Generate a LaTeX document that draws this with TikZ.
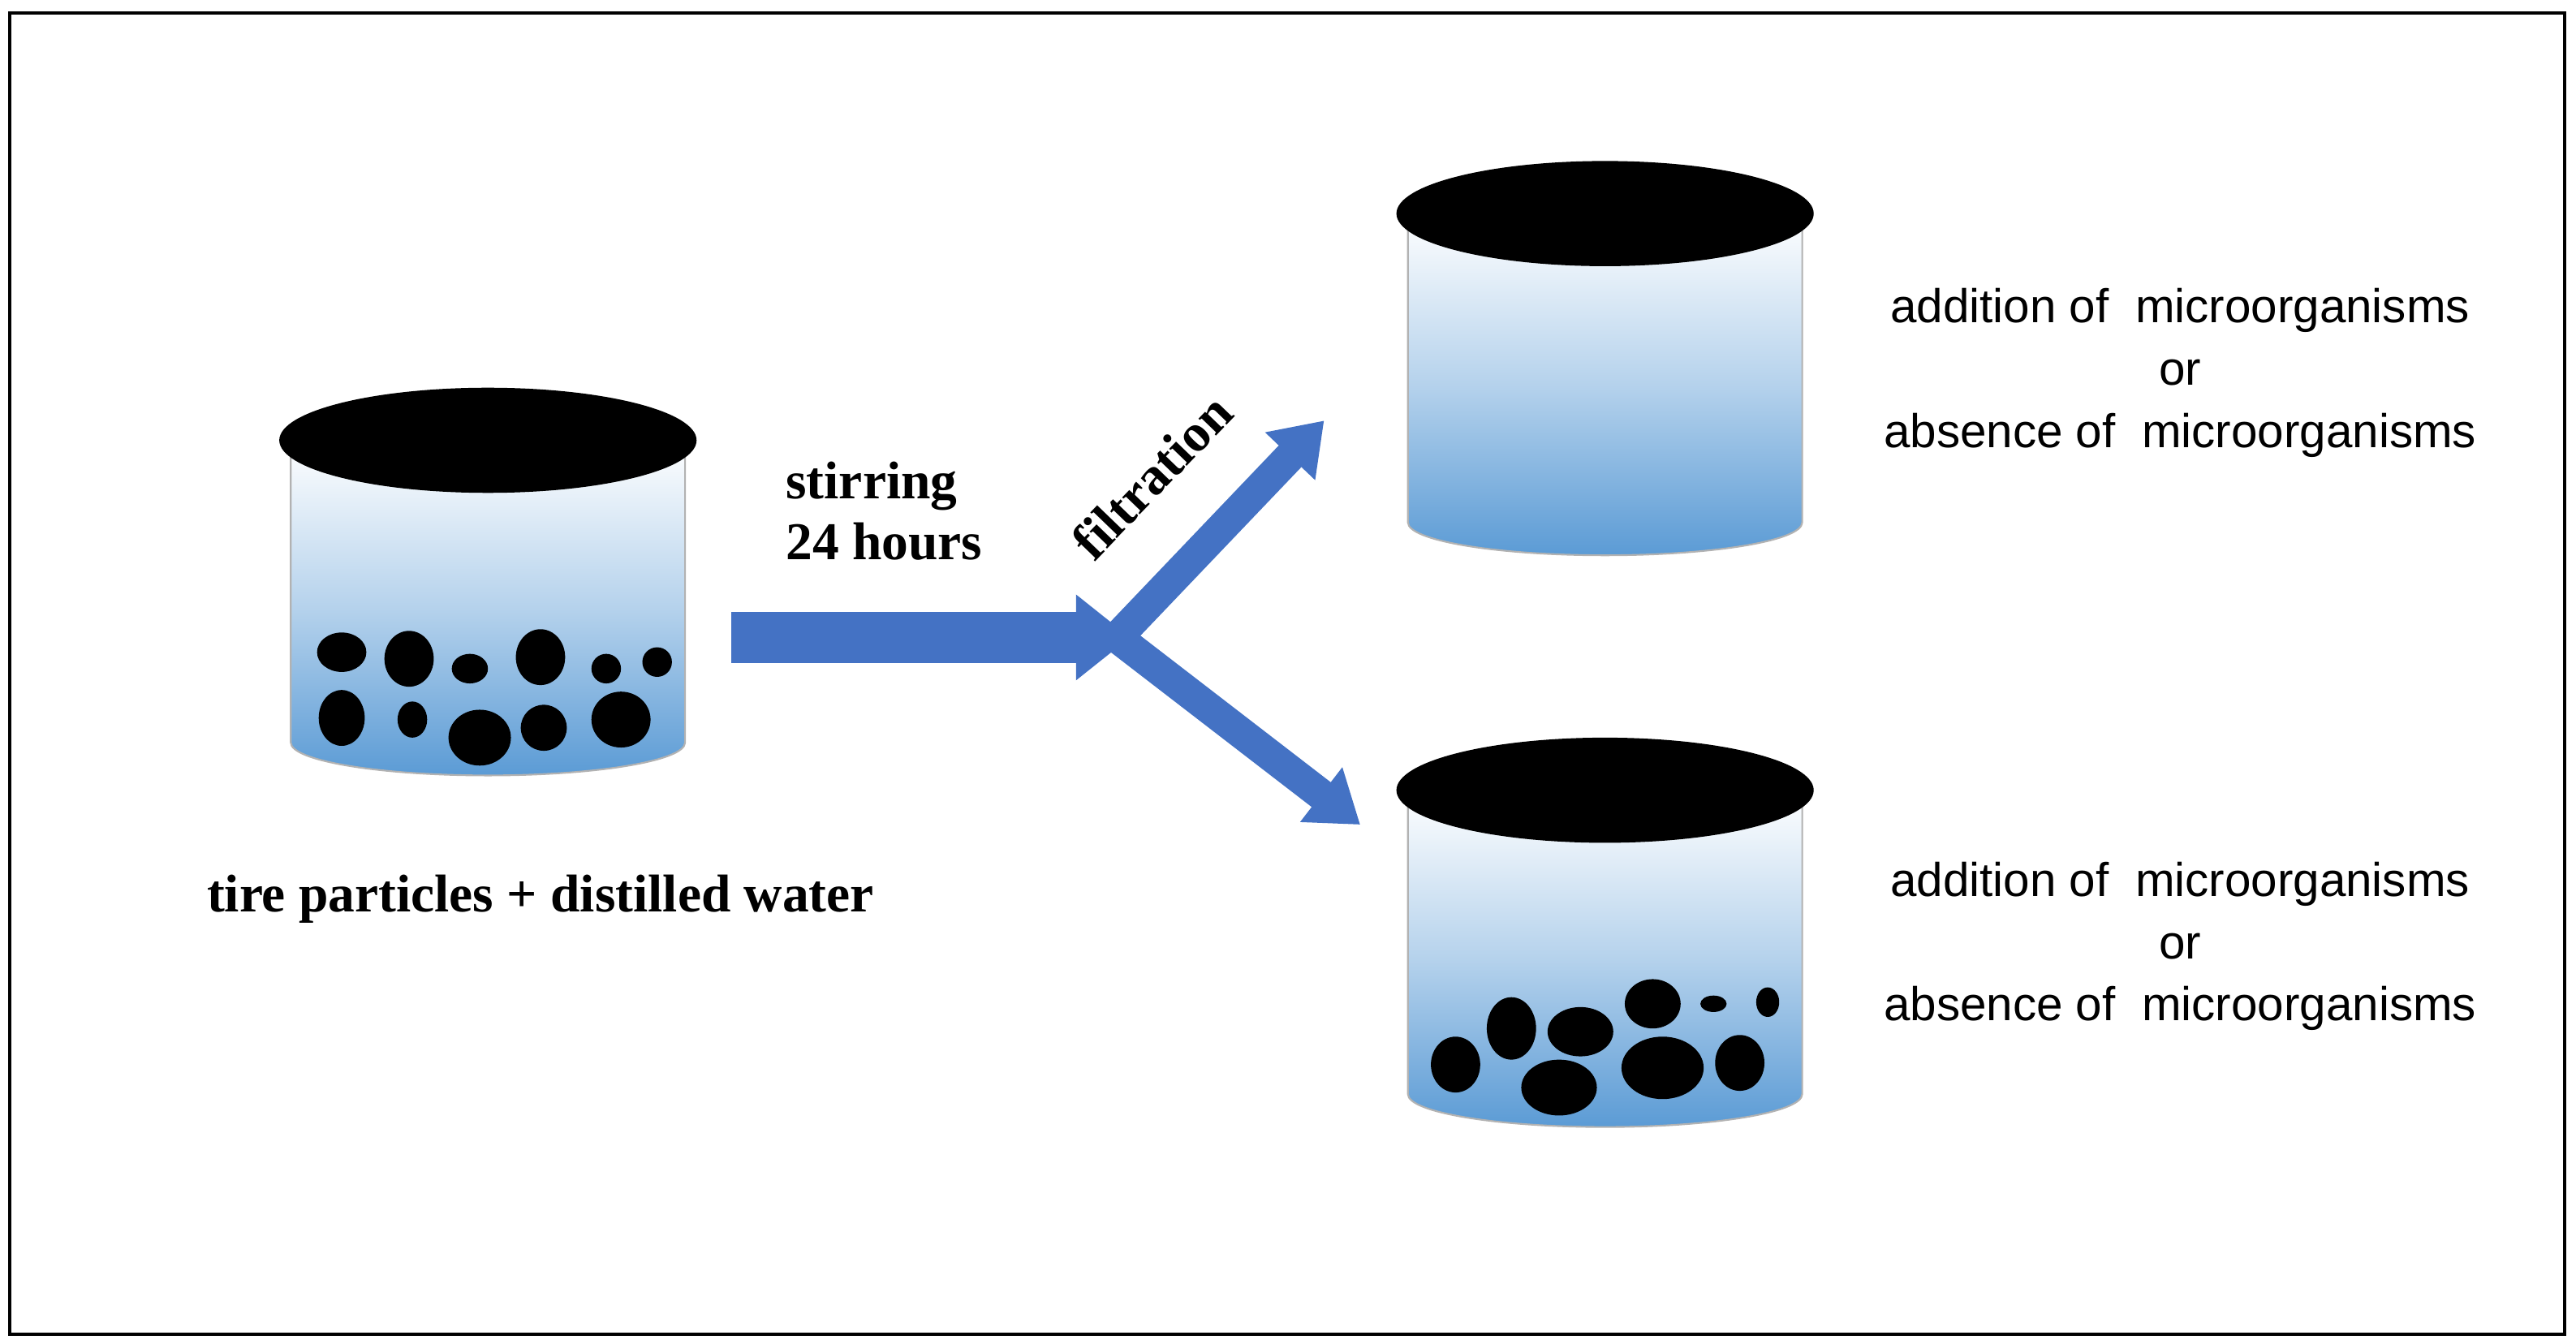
\documentclass[tikz,border=0pt]{standalone}
\usepackage{fontspec}
\setmainfont{Liberation Serif}
\newfontfamily\sfont{Liberation Sans}
\usetikzlibrary{arrows.meta}
\definecolor{ablue}{HTML}{4472C4}
\definecolor{wblue}{HTML}{5B9BD5}
\tikzset{
 arr/.style={draw=ablue,line width=0.31cm,-{Triangle[width=0.5cm,length=0.33cm]}},
 darr/.style={draw=ablue,line width=0.19cm,-{Triangle[width=0.4cm,length=0.3cm]}},
 lbl/.style={font=\bfseries\fontsize{9.2}{10.5}\selectfont,align=left},
 slbl/.style={font=\sfont\fontsize{8.2}{10.8}\selectfont,align=center},
 part/.style={fill=black}
}
\newcommand{\cyl}[4]{% cx, topy, bottomy, name
 \shade[top color=white,bottom color=wblue,middle color=white!55!wblue]
   (#1-120,#2) -- (#1-120,#3) arc[start angle=180,end angle=0,x radius=120,y radius=20] -- (#1+120,#2) -- cycle;
 \draw[gray!60,line width=0.3pt] (#1-120,#2) -- (#1-120,#3) arc[start angle=180,end angle=0,x radius=120,y radius=20] -- (#1+120,#2);
 \fill (#1,#2) ellipse[x radius=127,y radius=32];
 \coordinate (#4) at (#1,#2);
}
\begin{document}
\begin{tikzpicture}[x=0.01cm,y=-0.01cm]
\useasboundingbox (0,0) rectangle (1568,818);
\fill[white] (0,0) rectangle (1568,818);
\draw[line width=0.6pt] (6,8) rectangle (1561,812);
% cylinders
\cyl{297}{268}{452}{c1}
\cyl{977}{130}{318}{c2}
\cyl{977}{481}{666}{c3}
% particles left
\foreach \x/\y/\a/\b in {208/397/15/12,249/401/15/17,286/407/11/9,329/400/15/17,369/407/9/9,400/403/9/9,208/437/14/17,251/438/9/11,292/449/19/17,331/443/14/14,378/438/18/17}
  \fill[part] (\x,\y) ellipse[x radius=\a,y radius=\b];
% particles bottom right
\foreach \x/\y/\a/\b in {886/648/15/17,920/626/15/19,962/628/20/15,1006/611/17/15,1043/611/8/5,1076/610/7/9,949/662/23/17,1012/650/25/19,1059/647/15/17}
  \fill[part] (\x,\y) ellipse[x radius=\a,y radius=\b];
% arrows
\coordinate (h0) at (445,388);
\coordinate (h1) at (688,388);
\coordinate (u0) at (680,388);
\coordinate (u1) at (806,256);
\coordinate (d0) at (680,388);
\coordinate (d1) at (828,502);
\draw[darr] (u0) -- (u1);
\draw[darr] (d0) -- (d1);
\draw[arr] (h0) -- (h1);
% labels
\node[lbl,anchor=west] (stir) at (466,311) {stirring\\24 hours};
\node[lbl,rotate=46] (filt) at (701,290) {filtration};
\node[lbl] (tire) at (329,547) {tire particles + distilled water};
\node[slbl] (t1) at (1327,227) {addition of\ \ microorganisms\\or\\absence of\ \ microorganisms};
\node[slbl] (t2) at (1327,576) {addition of\ \ microorganisms\\or\\absence of\ \ microorganisms};
\end{tikzpicture}
\end{document}
